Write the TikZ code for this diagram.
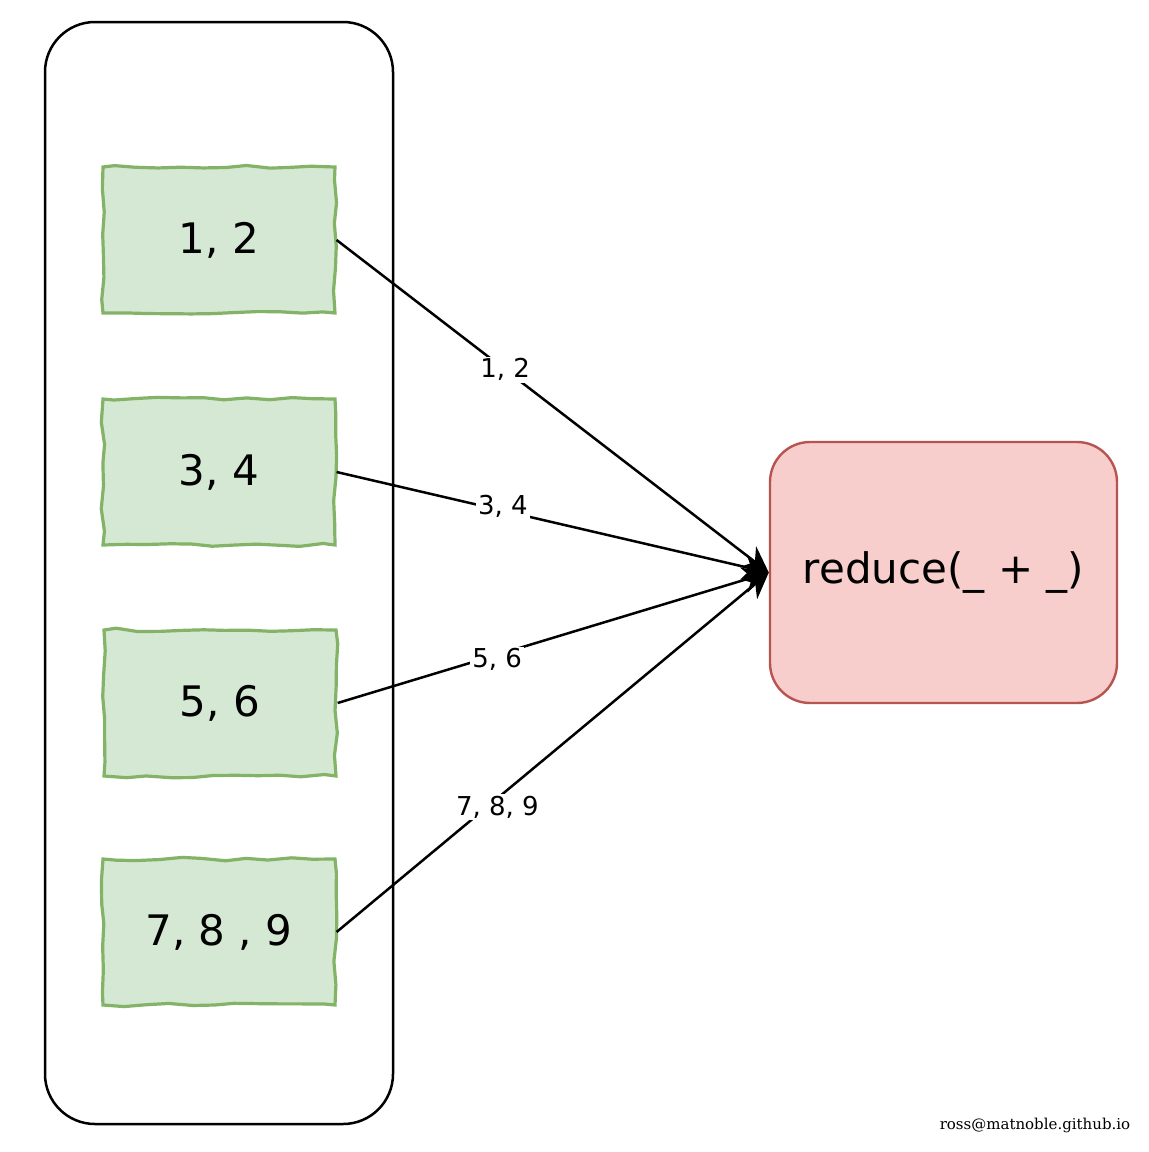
\documentclass[tikz,border=0pt]{standalone}
\usepackage{fontspec}
\setmainfont{DejaVu Sans}
\newfontfamily\footfont{DejaVu Serif}
\usetikzlibrary{arrows.meta,decorations.pathmorphing}
\definecolor{chunkfill}{HTML}{D5E8D4}
\definecolor{chunkline}{HTML}{82B366}
\definecolor{redfill}{HTML}{F8CECC}
\definecolor{redline}{HTML}{B85450}

\begin{document}
\pgfmathsetseed{11}
\begin{tikzpicture}[x=0.5pt, y=-0.5pt,
    chunk/.style = {draw=chunkline, fill=chunkfill, line width=1.6pt,
        minimum width=116pt, minimum height=73pt,
        font=\fontsize{21}{25}\selectfont,
        decorate, decoration={random steps, segment length=11pt, amplitude=0.9pt}},
    reducer/.style = {draw=redline, fill=redfill, line width=1.2pt,
        rounded corners=20pt, minimum width=173.5pt, minimum height=130.5pt,
        font=\fontsize{21}{25}\selectfont},
    lbl/.style = {fill=white, inner sep=1pt, font=\fontsize{13}{15}\selectfont},
    flow/.style = {line width=1.25pt, -{Stealth[length=13pt, width=13pt]}}]
    \useasboundingbox (0,0) rectangle (1149,1152);
    \node[draw, line width=1.25pt, rounded corners=25pt,
        minimum width=174pt, minimum height=551pt] (rdd) at (219,573) {};
    \node[chunk] (p1) at (219,240) {1, 2};
    \node[chunk] (p2) at (219,472) {3, 4};
    \node[chunk] (p3) at (220,703) {5, 6};
    \node[chunk] (p4) at (219,932) {7, 8 , 9};
    \node[reducer] (red) at (943.5,572.5) {reduce(\_ + \_)};
    \draw[flow] (p1.east) -- node[lbl, pos=0.39] {1, 2} (red.west);
    \draw[flow] (p2.east) -- node[lbl, pos=0.385, yshift=2pt] {3, 4} (red.west);
    \draw[flow] (p3.east) -- node[lbl, pos=0.37, yshift=-2.5pt] {5, 6} (red.west);
    \draw[flow] (p4.east) -- node[lbl, pos=0.372, yshift=-4.5pt] {7, 8, 9} (red.west);
    \node[font=\footfont\fontsize{7.5}{9}\selectfont] (sig) at (1035,1125) {ross@matnoble.github.io};
\end{tikzpicture}
\end{document}
